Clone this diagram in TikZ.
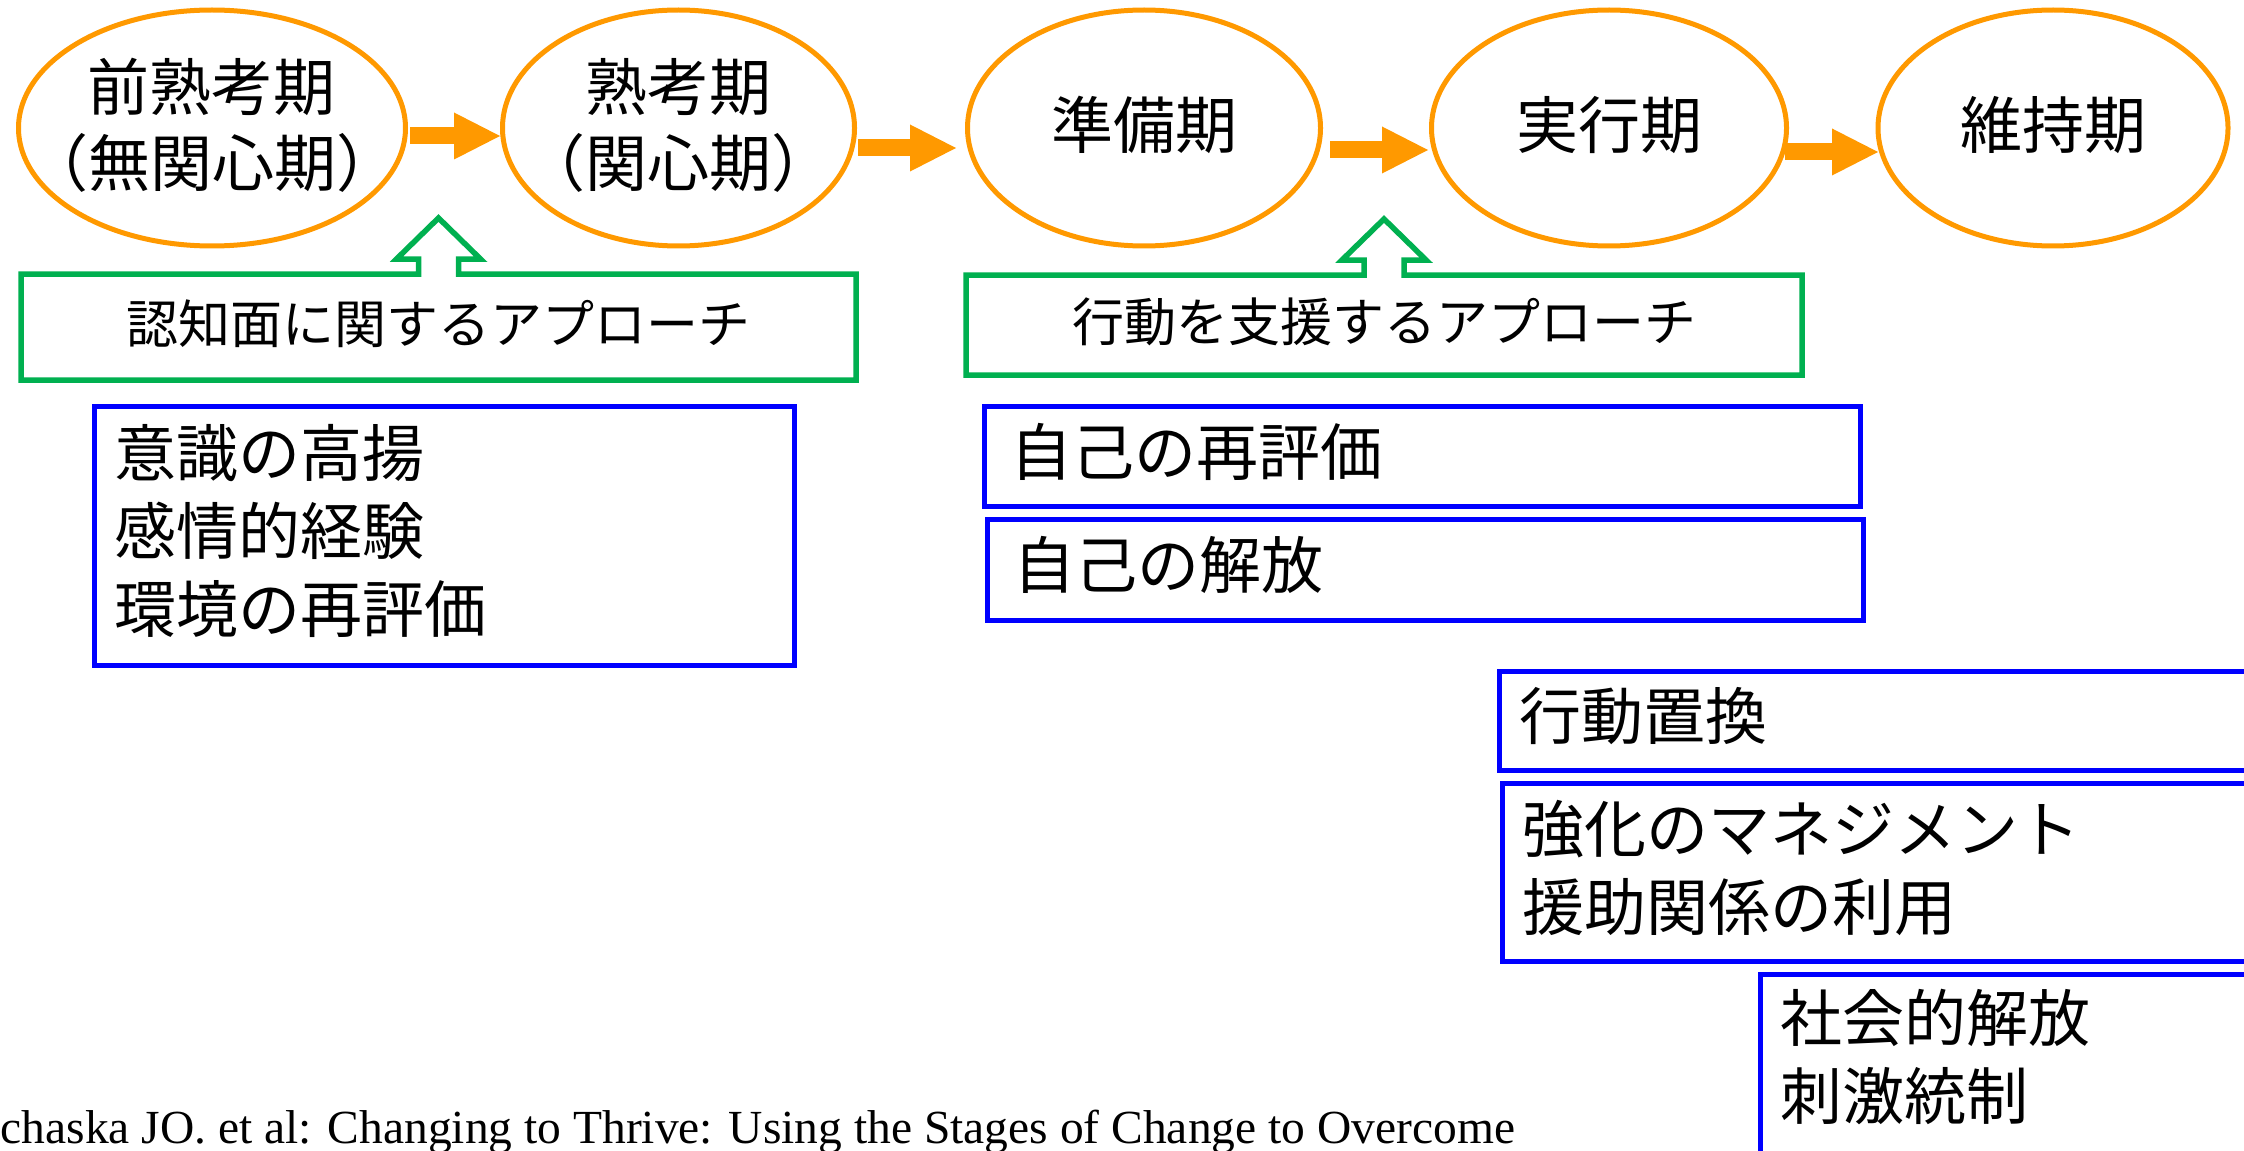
\documentclass[tikz,border=0pt]{standalone}
\usepackage{fontspec}
\setmainfont{Noto Sans CJK JP}
\newfontfamily\citefont{Liberation Serif}
\usetikzlibrary{shapes.geometric,arrows.meta,calc}
\definecolor{stageorange}{RGB}{255,153,0}
\definecolor{apgreen}{RGB}{0,176,80}
\definecolor{procblue}{RGB}{0,0,255}
\begin{document}
\begin{tikzpicture}[x=0.1mm,y=-0.1mm,
  stage/.style={ellipse, draw=stageorange, line width=0.5mm, inner sep=0pt, outer sep=0pt,
    minimum height=23.6mm},
  stagetext/.style={inner sep=0pt, align=center, text width=40mm, text height=5.6mm,
    font=\fontsize{6.2mm}{7.6mm}\selectfont},
  flow/.style={draw=stageorange, line width=1.7mm,
    -{Triangle[length=4.6mm,width=4.7mm,line width=0pt]}},
  apbox/.style={rectangle, inner sep=0pt, outer sep=0pt, text height=4.8mm, text depth=1.6mm,
    font=\fontsize{5.2mm}{6mm}\selectfont},
  apline/.style={draw=apgreen, line width=0.55mm, line join=miter},
  procbox/.style={rectangle, draw=procblue, line width=0.5mm, outer sep=0pt, inner ysep=0pt,
    inner xsep=2mm, align=left, text height=5.6mm,
    font=\fontsize{6.2mm}{7.8mm}\selectfont}
]
\path[use as bounding box] (0,0) rectangle (2244,1151);
\fill[white] (0,0) rectangle (2244,1151);
\clip (0,0) rectangle (2244,1151);

% stages
\node[stage, minimum width=38.7mm,
  label={[stagetext, text depth=9.02mm]center:{前熟考期\\（無関心期）}}] (e1) at (212,128) {};
\node[stage, minimum width=35.2mm,
  label={[stagetext, text depth=9.02mm]center:{熟考期\\（関心期）}}] (e2) at (678.5,128) {};
\node[stage, minimum width=35.3mm,
  label={[stagetext, text depth=1.42mm]center:{準備期}}] (e3) at (1144,128) {};
\node[stage, minimum width=35.5mm,
  label={[stagetext, text depth=1.42mm]center:{実行期}}] (e4) at (1609,128) {};
\node[stage, minimum width=35.0mm,
  label={[stagetext, text depth=1.42mm]center:{維持期}}] (e5) at (2053,128) {};

% stage arrows
\draw[flow] ($(e1.east)+(4.5,8)$) -- ($(e2.west)+(-2.5,8)$);
\draw[flow] ($(e2.east)+(3.5,20)$) -- ($(e3.west)+(-11.5,20)$);
\draw[flow] ($(e3.east)+(9.5,22)$) -- ($(e4.west)+(-3.5,22)$);
\draw[flow] ($(e4.east)+(-1.5,24)$) -- ($(e5.west)+(0,24)$);

% approach callouts
\node[apbox, minimum width=83.5mm, minimum height=10.6mm] (g1) at (438.5,327) {認知面に関するアプローチ};
\draw[apline] (g1.north west) -- ($(g1.north)+(-20,0)$) -- ($(g1.north)+(-20,-15)$)
  -- ($(g1.north)+(-42,-15)$) -- ($(g1.north)+(0,-56)$) -- ($(g1.north)+(42,-15)$)
  -- ($(g1.north)+(20,-15)$) -- ($(g1.north)+(20,0)$) -- (g1.north east)
  -- (g1.south east) -- (g1.south west) -- cycle;

\node[apbox, minimum width=83.6mm, minimum height=10mm] (g2) at (1384,325) {行動を支援するアプローチ};
\draw[apline] (g2.north west) -- ($(g2.north)+(-20,0)$) -- ($(g2.north)+(-20,-15)$)
  -- ($(g2.north)+(-42,-15)$) -- ($(g2.north)+(0,-56)$) -- ($(g2.north)+(42,-15)$)
  -- ($(g2.north)+(20,-15)$) -- ($(g2.north)+(20,0)$) -- (g2.north east)
  -- (g2.south east) -- (g2.south west) -- cycle;

% processes
\node[procbox, text width=66mm, minimum width=70mm, minimum height=25.9mm, text depth=17.42mm]
  (pA) at (444.5,536) {意識の高揚\\感情的経験\\環境の再評価};
\node[procbox, inner xsep=2.6mm, text width=82.4mm, minimum width=87.6mm, minimum height=10mm, text depth=1.82mm]
  (pB) at (1422.5,456.5) {自己の再評価};
\node[procbox, inner xsep=2.6mm, text width=82.4mm, minimum width=87.6mm, minimum height=10.1mm, text depth=1.82mm]
  (pC) at (1425.5,570) {自己の解放};
\node[procbox, text width=72.25mm, minimum width=76.25mm, minimum height=9.9mm, text depth=1.82mm]
  (pD) at (1880.75,721) {行動置換};
\node[procbox, text width=71.95mm, minimum width=75.95mm, minimum height=17.8mm, text depth=9.62mm]
  (pE) at (1882.25,872.5) {強化のマネジメント\\援助関係の利用};
\node[procbox, text width=46.15mm, minimum width=50.15mm, minimum height=18.55mm, text depth=10.77mm]
  (pF) at (2011.25,1067.25) {社会的解放\\刺激統制};

% citation
\node[anchor=base west, inner sep=0pt, font=\citefont\fontsize{4.75mm}{5.2mm}\selectfont]
  (cite) at (0,1143) {chaska JO. et al: Changing to Thrive: Using the Stages of Change to Overcome};
\end{tikzpicture}
\end{document}
